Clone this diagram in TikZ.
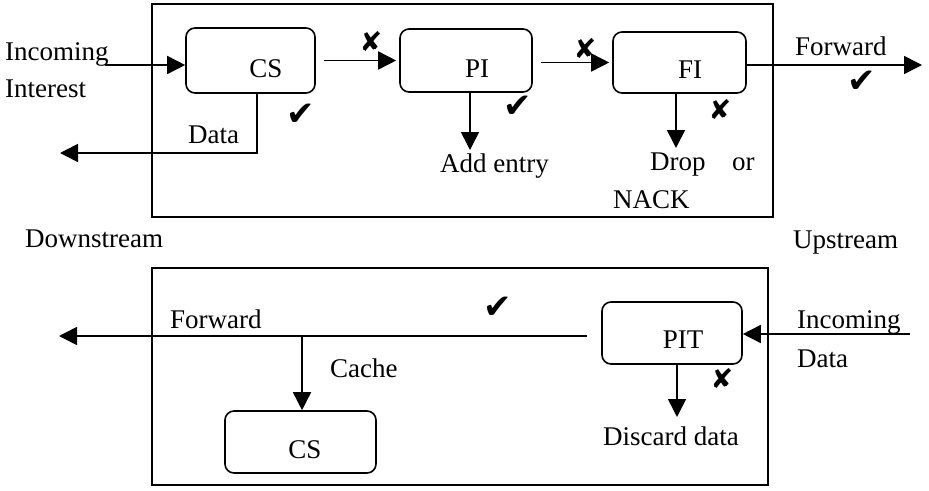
\documentclass[tikz,border=0pt]{standalone}
\usepackage{fontspec}
\setmainfont{Liberation Serif}
\newfontfamily\symfont{DejaVu Sans}
\usetikzlibrary{arrows.meta}
\begin{document}
\begin{tikzpicture}[x=1pt,y=-1pt,
  box/.style={draw, line width=1.6pt, rounded corners=9pt, inner sep=0pt},
  frame/.style={draw, line width=1.8pt, inner sep=0pt},
  arr/.style={line width=1.6pt, -{Triangle[length=18pt,width=18pt]}},
  txt/.style={inner sep=0pt, font=\fontsize{27}{30}\selectfont, anchor=base west},
  ctxt/.style={inner sep=0pt, font=\fontsize{27}{30}\selectfont, anchor=base},
  okmark/.style={inner sep=0pt, font=\symfont\fontsize{34}{34}\selectfont},
  nomark/.style={inner sep=0pt, font=\symfont\fontsize{27}{27}\selectfont},
]
\useasboundingbox (0,0) rectangle (929,490);

% frames
\node[frame, minimum width=621pt, minimum height=213pt] (topf) at (462.5,110.5) {};
\node[frame, minimum width=616pt, minimum height=217pt] (botf) at (460,376.5) {};

% boxes
\node[box, minimum width=129pt, minimum height=65pt] (cs) at (250.5,60.5) {};
\node[box, minimum width=132pt, minimum height=63pt] (pi) at (466,60.5) {};
\node[box, minimum width=133pt, minimum height=61pt] (fi) at (679.5,62.5) {};
\node[box, minimum width=151pt, minimum height=62pt] (cs2) at (300.5,442) {};
\node[box, minimum width=140pt, minimum height=62pt] (pit) at (672,333) {};

% box labels
\node[ctxt] (cst) at (266,77) {CS};
\node[ctxt] (pit1) at (477,77) {PI};
\node[ctxt] (fit) at (690,78) {FI};
\node[ctxt] (cs2t) at (305,458) {CS};
\node[ctxt] (pitt) at (683,348) {PIT};

% texts
\node[txt] (inc1) at (5,60) {Incoming};
\node[txt] (inc2) at (5,97) {Interest};
\node[txt] (data1) at (188,143) {Data};
\node[txt] (adde) at (440,172) {Add entry};
\node[txt] (drop) at (650,170) {Drop};
\node[txt] (or) at (732,170) {or};
\node[txt] (nack) at (613,208) {NACK};
\node[txt] (fwd1) at (795,55) {Forward};
\node[txt] (down) at (25,247) {Downstream};
\node[txt] (up) at (793,248) {Upstream};
\node[txt] (fwd2) at (170,328) {Forward};
\node[txt] (cache) at (330,377) {Cache};
\node[txt] (incd1) at (797,328) {Incoming};
\node[txt] (incd2) at (797,367) {Data};
\node[txt] (disc) at (603,445) {Discard data};

% marks
\node[okmark] (ok1) at (301,115) {✔};
\node[okmark] (ok2) at (518,107) {✔};
\node[okmark] (ok3) at (862,82) {✔};
\node[okmark] (ok4) at (498,308) {✔};
\node[nomark] (no1) at (371,42) {✘};
\node[nomark] (no2) at (585,49) {✘};
\node[nomark] (no3) at (720,110) {✘};
\node[nomark] (no4) at (722,379) {✘};

% connectors (top)
\coordinate (inI) at (105,65);
\draw[arr] (inI) -- (inI -| cs.west);
\coordinate (dOut) at (60,153);
\coordinate (dSrc) at (257,93);
\draw[arr] (dSrc) |- (dOut);
\draw[arr, shorten <=8pt, shorten >=3pt] (cs.east) -- (pi.west);
\draw[arr, shorten <=8pt, shorten >=3pt] (pi.east |- fi.west) -- (fi.west);
\coordinate (fwdT) at (922,65);
\draw[arr] (fi.east |- fwdT) -- (fwdT);
\coordinate (addT) at (470,150);
\draw[arr] (pi.south -| addT) -- (addT);
\coordinate (dropT) at (676,148);
\draw[arr] (fi.south -| dropT) -- (dropT);

% connectors (bottom)
\coordinate (bf) at (59,336);
\draw[arr, shorten <=14pt] (pit.west |- bf) -- (bf);
\coordinate (cacheTop) at (302,336);
\draw[arr] (cacheTop) -- (cacheTop |- cs2.north);
\coordinate (inD) at (910,334);
\draw[arr] (inD) -- (inD -| pit.east);
\coordinate (discT) at (677,417);
\draw[arr] (pit.south -| discT) -- (discT);
\end{tikzpicture}
\end{document}
